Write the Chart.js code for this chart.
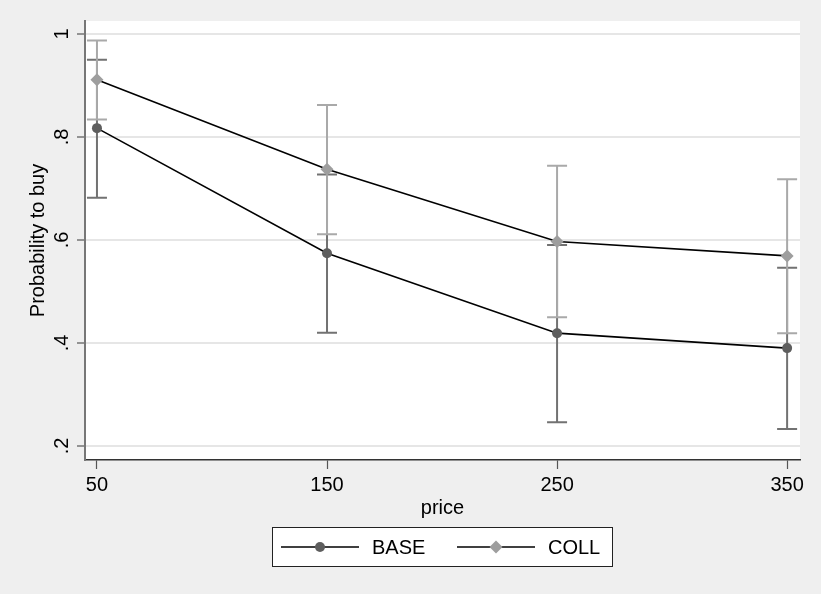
<!DOCTYPE html>
<html>
<head>
<meta charset="utf-8">
<script src="https://cdn.jsdelivr.net/npm/chart.js@4"></script>
<style>
  html, body { margin: 0; padding: 0; background: #efefef; }
  #wrap { width: 821px; height: 594px; position: relative; }
</style>
</head>
<body>
<div id="wrap"><canvas id="c" width="821" height="594"></canvas></div>
<script>
// ---- data ----
const prices = [50, 150, 250, 350];
const baseMean = [0.817, 0.574, 0.419, 0.390];
const baseLo   = [0.682, 0.420, 0.246, 0.233];
const baseHi   = [0.950, 0.727, 0.590, 0.546];
const collMean = [0.911, 0.737, 0.597, 0.569];
const collLo   = [0.834, 0.611, 0.450, 0.419];
const collHi   = [0.987, 0.862, 0.744, 0.718];
const yTicks = [0.2, 0.4, 0.6, 0.8, 1.0];
const xTicks = [50, 150, 250, 350];
const seriesNames = ['BASE', 'COLL'];

const FONT = 'Liberation Sans, Arial, Helvetica, sans-serif';
const baseMarker = '#5e5e5e';
const collMarker = '#9e9e9e';
const baseBar = '#727272';
const collBar = '#a9a9a9';

const bgPlugin = {
  id: 'bg',
  beforeDraw(chart) {
    const {ctx, chartArea: a} = chart;
    ctx.save();
    ctx.fillStyle = '#efefef';
    ctx.fillRect(0, 0, chart.width, chart.height);
    ctx.fillStyle = '#ffffff';
    ctx.fillRect(a.left, a.top, a.right - a.left, a.bottom - a.top);
    ctx.restore();
  }
};

function drawBars(chart, lo, hi, color) {
  const {ctx, scales: {x, y}} = chart;
  ctx.save();
  ctx.strokeStyle = color;
  ctx.lineWidth = 2;
  const cap = 10;
  for (let i = 0; i < prices.length; i++) {
    const px = x.getPixelForValue(prices[i]);
    const y1 = y.getPixelForValue(lo[i]);
    const y2 = y.getPixelForValue(hi[i]);
    ctx.beginPath();
    ctx.moveTo(px, y1); ctx.lineTo(px, y2);
    ctx.moveTo(px - cap, y1); ctx.lineTo(px + cap, y1);
    ctx.moveTo(px - cap, y2); ctx.lineTo(px + cap, y2);
    ctx.stroke();
  }
  ctx.restore();
}

const errPlugin = {
  id: 'errbars',
  beforeDatasetsDraw(chart) {
    drawBars(chart, baseLo, baseHi, baseBar);
    drawBars(chart, collLo, collHi, collBar);
  }
};

const legendPlugin = {
  id: 'customLegend',
  afterDraw(chart) {
    const ctx = chart.ctx;
    ctx.save();
    const bx = 272.5, by = 527.5, bw = 340, bh = 39;
    ctx.fillStyle = '#ffffff';
    ctx.fillRect(bx, by, bw, bh);
    ctx.strokeStyle = '#222';
    ctx.lineWidth = 1;
    ctx.strokeRect(bx, by, bw, bh);
    const cy = 547;
    const items = [
      {x0: 281, x1: 359, text: seriesNames[0], tx: 372, color: baseMarker, shape: 'circle'},
      {x0: 457, x1: 535, text: seriesNames[1], tx: 548, color: collMarker, shape: 'diamond'}
    ];
    items.forEach(it => {
      ctx.strokeStyle = '#000';
      ctx.lineWidth = 1.6;
      ctx.beginPath();
      ctx.moveTo(it.x0, cy); ctx.lineTo(it.x1, cy); ctx.stroke();
      const mx = (it.x0 + it.x1) / 2;
      ctx.fillStyle = it.color;
      ctx.beginPath();
      if (it.shape === 'circle') {
        ctx.arc(mx, cy, 5, 0, Math.PI * 2);
      } else {
        ctx.moveTo(mx, cy - 6.5); ctx.lineTo(mx + 6.5, cy);
        ctx.lineTo(mx, cy + 6.5); ctx.lineTo(mx - 6.5, cy); ctx.closePath();
      }
      ctx.fill();
      ctx.fillStyle = '#000';
      ctx.font = '20px ' + FONT;
      ctx.textBaseline = 'middle';
      ctx.textAlign = 'left';
      ctx.fillText(it.text, it.tx, cy + 1);
    });
    ctx.restore();
  }
};

new Chart(document.getElementById('c'), {
  type: 'line',
  data: {
    datasets: [
      {
        label: seriesNames[0],
        data: prices.map((p, i) => ({x: p, y: baseMean[i]})),
        borderColor: '#000',
        borderWidth: 1.6,
        pointStyle: 'circle',
        pointRadius: 5,
        pointBackgroundColor: baseMarker,
        pointBorderWidth: 0,
        tension: 0,
        fill: false
      },
      {
        label: seriesNames[1],
        data: prices.map((p, i) => ({x: p, y: collMean[i]})),
        borderColor: '#000',
        borderWidth: 1.6,
        pointStyle: 'rectRot',
        pointRadius: 6.5,
        pointBackgroundColor: collMarker,
        pointBorderWidth: 0,
        tension: 0,
        fill: false
      }
    ]
  },
  options: {
    responsive: false,
    animation: false,
    devicePixelRatio: 1,
    layout: { padding: { left: 0, top: 21, right: 21, bottom: 74 } },
    plugins: { legend: { display: false }, tooltip: { enabled: false } },
    scales: {
      x: {
        type: 'linear',
        min: 44.8,
        max: 355.6,
        afterBuildTicks(s) { s.ticks = xTicks.map(v => ({value: v})); },
        afterFit(s) { s.height = 60; },
        ticks: {
          autoSkip: false, maxRotation: 0, minRotation: 0,
          color: '#000', padding: 4,
          font: { family: FONT, size: 20 },
          callback: v => String(v)
        },
        grid: { drawOnChartArea: false, drawTicks: true, tickLength: 9, tickColor: '#555', tickWidth: 1.2 },
        border: { display: true, color: '#333', width: 1.5 },
        title: { display: true, text: 'price', color: '#000', font: { family: FONT, size: 20 }, padding: 0 }
      },
      y: {
        type: 'linear',
        min: 0.1728,
        max: 1.025,
        afterBuildTicks(s) { s.ticks = yTicks.map(v => ({value: v})); },
        afterFit(s) { s.width = 85; },
        ticks: {
          autoSkip: false, minRotation: 90, maxRotation: 90,
          crossAlign: 'center',
          color: '#000', padding: 6,
          font: { family: FONT, size: 20 },
          callback: v => (Math.abs(v - 1) < 1e-9 ? '1' : '.' + Math.round(v * 10))
        },
        grid: { color: '#e6e6e6', lineWidth: 2, drawTicks: true, tickLength: 8, tickColor: '#555', tickWidth: 1.2 },
        border: { display: true, color: '#777', width: 2 },
        title: { display: true, text: 'Probability to buy', color: '#000', font: { family: FONT, size: 20 }, padding: { top: 26, bottom: 0 } }
      }
    }
  },
  plugins: [bgPlugin, errPlugin, legendPlugin]
});
</script>
</body>
</html>
